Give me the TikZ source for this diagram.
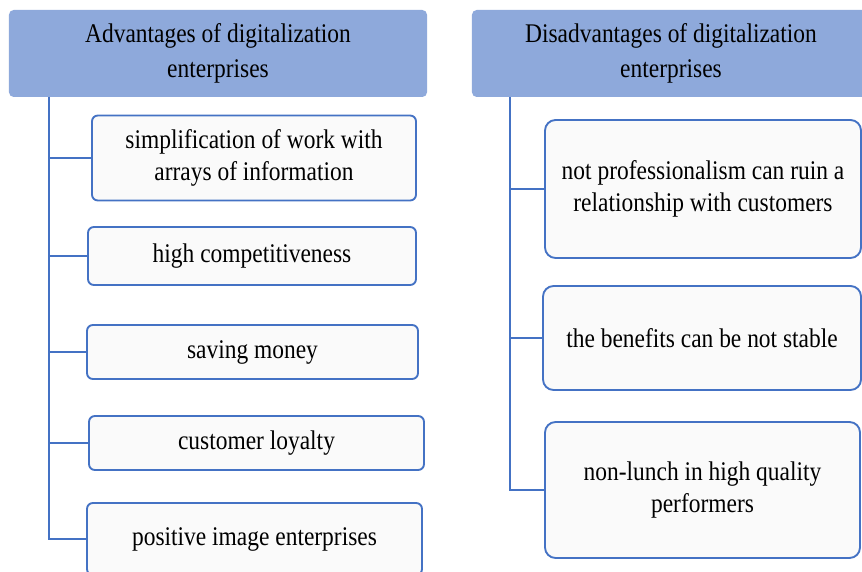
\documentclass[tikz,border=0pt]{standalone}
\usepackage{fontspec}
\setmainfont{Liberation Serif}[FakeStretch=0.87]
\usepackage{tikz}
\definecolor{headblue}{HTML}{8EA9DB}
\definecolor{lineblue}{HTML}{4472C4}
\tikzset{head/.style={fill=headblue,draw=none,rounded corners=4pt,align=center,
		font={\fontsize{23}{30}\selectfont}},
	item/.style={fill=white!98!black,draw=lineblue,line width=1.6pt,rounded corners=5pt,
		align=center,font={\fontsize{23}{27}\selectfont}},
	link/.style={draw=lineblue,line width=1.7pt}}

\begin{document}
\begin{tikzpicture}[x=0.03cm,y=-0.03cm]
		\useasboundingbox (0,0) rectangle (862,572);
		\clip (0,0) rectangle (862,572);
		\begin{scope}[every node/.style={head,minimum height=2.61cm}]
			\node[minimum width=12.54cm] (AH) at (218,53.5) {Advantages of digitalization\\enterprises};
			\node[minimum width=11.94cm] (DH) at (671,53.5) {Disadvantages of digitalization\\enterprises};
		\end{scope}
		\begin{scope}[every node/.style={item}]
			\node[minimum width=9.72cm,minimum height=2.55cm] (A1) at (254,158) {simplification of work with\\arrays of information};
			\node[minimum width=9.84cm,minimum height=1.74cm] (A2) at (252,256) {high competitiveness};
			\node[minimum width=9.93cm,minimum height=1.62cm] (A3) at (252.5,352) {saving money};
			\node[minimum width=10.05cm,minimum height=1.62cm] (A4) at (256.5,443) {customer loyalty};
			\node[minimum width=10.05cm,minimum height=2.16cm] (A5) at (254.5,539) {positive image enterprises};
		\end{scope}
		\begin{scope}[every node/.style={item,rounded corners=9pt}]
			\node[minimum width=9.48cm,minimum height=4.14cm] (D1) at (703,189) {not professionalism can ruin a\\relationship with customers};
			\node[minimum width=9.54cm,minimum height=3.12cm] (D2) at (702,338) {the benefits can be not stable};
			\node[minimum width=9.45cm,minimum height=4.08cm] (D3) at (702.5,490) {non-lunch in high quality\\performers};
		\end{scope}
		\coordinate (AT) at (49,97);
		\coordinate (DT) at (510,97);
		\draw[link] (AT) |- (A5.west);
		\draw[link] (AT |- A1.west) -- (A1.west);
		\draw[link] (AT |- A2.west) -- (A2.west);
		\draw[link] (AT |- A3.west) -- (A3.west);
		\draw[link] (AT |- A4.west) -- (A4.west);
		\draw[link] (DT) |- (D3.west);
		\draw[link] (DT |- D1.west) -- (D1.west);
		\draw[link] (DT |- D2.west) -- (D2.west);
	\end{tikzpicture}
\end{document}
